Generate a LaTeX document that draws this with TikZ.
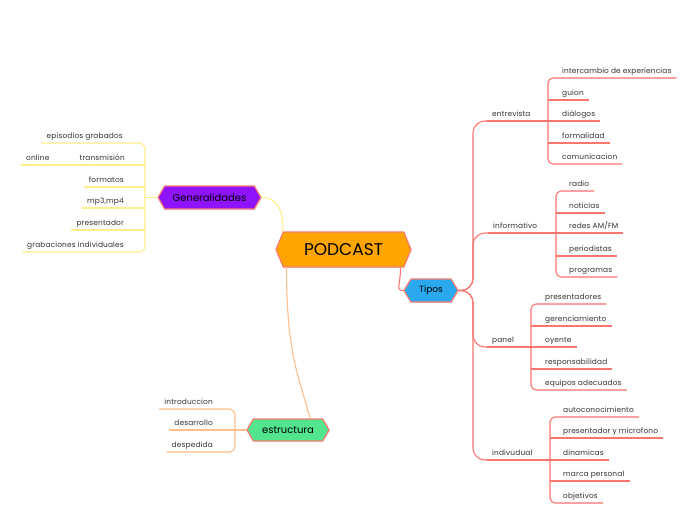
\documentclass[tikz,border=0pt]{standalone}
\usepackage{fontspec}
\setmainfont{Poppins}
\usetikzlibrary{shapes.symbols,shadows}
\definecolor{orangec}{HTML}{FFA500}
\definecolor{bluec}{HTML}{2AA9EF}
\definecolor{purplec}{HTML}{9013FE}
\definecolor{greenc}{HTML}{52E58E}
\definecolor{bordc}{HTML}{FA7A70}
\definecolor{redl}{HTML}{FA7470}
\definecolor{yell}{HTML}{FFEE88}
\definecolor{orl}{HTML}{FFBF8C}
\definecolor{labc}{HTML}{333333}
\tikzset{
  hexa/.style={shape=signal, signal to=west and east, draw=bordc, line width=1.2pt, text=black, inner sep=0pt,
    drop shadow={opacity=0.15, shadow xshift=0.8pt, shadow yshift=-0.8pt}},
  leaf/.style={font=\fontsize{7.4}{8}\selectfont\addfontfeatures{LetterSpace=2}, text=labc, inner xsep=5pt, inner ysep=0pt, text height=6pt, text depth=4.8pt},
  rl/.style={draw=redl, line width=1.1pt},
  yl/.style={draw=yell, line width=1.1pt},
  ol/.style={draw=orl, line width=1.1pt},
}
\begin{document}
\begin{tikzpicture}[x=1pt,y=-1pt]
\useasboundingbox[fill=white] (0,0) rectangle (697,520);

\node[hexa, fill=orangec, minimum width=135pt, minimum height=35pt, signal pointer angle=135, font=\fontsize{17}{20}\selectfont] (pod) at (343.5,249.5) {PODCAST};
\node[hexa, fill=bluec, minimum width=54pt, minimum height=23pt, signal pointer angle=117, font=\fontsize{9}{11}\selectfont] (tipos) at (431,290.5) {Tipos};
\node[hexa, fill=purplec, minimum width=103pt, minimum height=23pt, signal pointer angle=120, font=\fontsize{10}{12}\selectfont] (gen) at (209.5,197.5) {Generalidades};
\node[hexa, fill=greenc, minimum width=82pt, minimum height=22pt, signal pointer angle=120, font=\fontsize{10}{12}\selectfont] (est) at (288,430) {estructura};

\draw[yl] (gen.east) .. controls +(18,0) and +(0,-18) .. ([xshift=-60.5pt]pod.north);
\draw[ol] ([xshift=-57pt]pod.south) .. controls +(0,90) and +(-10,-40) .. ([xshift=22pt]est.north);
\draw[rl] ([xshift=57pt]pod.south) .. controls +(0,18) and +(-8,0) .. (tipos.west);

% ---------- right side: Tipos ----------
% entrevista
\node[leaf, anchor=south west] (entrevista) at (487,121) {entrevista};
\draw[rl, rounded corners=12pt] (tipos.east) -- (473,290.5) -- (473,121) -- (entrevista.south west);
\draw[rl] (entrevista.south west) -- (548,121);
\node[leaf, anchor=south west] (e1) at (557,78) {intercambio de experiencias};
\node[leaf, anchor=south west] (e2) at (557,100) {guion};
\node[leaf, anchor=south west] (e3) at (557,121) {diálogos};
\node[leaf, anchor=south west] (e4) at (557,143) {formalidad};
\node[leaf, anchor=south west] (e5) at (557,164) {comunicacion};
\draw[rl, rounded corners=5pt] (e1.south east) -- (548,78) -- (548,164) -- (e5.south east);
\draw[rl] (548,100) -- (e2.south east);
\draw[rl] (548,121) -- (e3.south east);
\draw[rl] (548,143) -- (e4.south east);

% informativo
\node[leaf, anchor=south west] (informativo) at (488,233) {informativo};
\draw[rl, rounded corners=12pt] (tipos.east) -- (473,290.5) -- (473,233) -- (informativo.south west);
\draw[rl] (informativo.south west) -- (556,233);
\node[leaf, anchor=south west] (i1) at (564,191) {radio};
\node[leaf, anchor=south west] (i2) at (564,213) {noticias};
\node[leaf, anchor=south west] (i3) at (564,233) {redes AM/FM};
\node[leaf, anchor=south west] (i4) at (564,256) {periodistas};
\node[leaf, anchor=south west] (i5) at (564,277) {programas};
\draw[rl, rounded corners=5pt] (i1.south east) -- (556,191) -- (556,277) -- (i5.south east);
\draw[rl] (556,213) -- (i2.south east);
\draw[rl] (556,233) -- (i3.south east);
\draw[rl] (556,256) -- (i4.south east);

% panel
\node[leaf, anchor=south west] (panel) at (487,347) {panel};
\draw[rl, rounded corners=12pt] (tipos.east) -- (473,290.5) -- (473,347) -- (panel.south west);
\draw[rl] (panel.south west) -- (531,347);
\node[leaf, anchor=south west] (p1) at (540,304) {presentadores};
\node[leaf, anchor=south west] (p2) at (540,326) {gerenciamiento};
\node[leaf, anchor=south west] (p3) at (540,347) {oyente};
\node[leaf, anchor=south west] (p4) at (540,369) {responsabilidad};
\node[leaf, anchor=south west] (p5) at (540,390) {equipos adecuados};
\draw[rl, rounded corners=5pt] (p1.south east) -- (531,304) -- (531,390) -- (p5.south east);
\draw[rl] (531,326) -- (p2.south east);
\draw[rl] (531,347) -- (p3.south east);
\draw[rl] (531,369) -- (p4.south east);

% indivudual
\node[leaf, anchor=south west] (indiv) at (487,460) {indivudual};
\draw[rl, rounded corners=12pt] (tipos.east) -- (473,290.5) -- (473,460) -- (indiv.south west);
\draw[rl] (indiv.south west) -- (550,460);
\node[leaf, anchor=south west] (d1) at (558,417) {autoconocimiento};
\node[leaf, anchor=south west] (d2) at (558,438) {presentador y microfono};
\node[leaf, anchor=south west] (d3) at (558,460) {dinamicas};
\node[leaf, anchor=south west] (d4) at (558,481) {marca personal};
\node[leaf, anchor=south west] (d5) at (558,503) {objetivos};
\draw[rl, rounded corners=5pt] (d1.south east) -- (550,417) -- (550,503) -- (d5.south east);
\draw[rl] (550,438) -- (d2.south east);
\draw[rl] (550,460) -- (d3.south east);
\draw[rl] (550,481) -- (d4.south east);

% ---------- left side: Generalidades ----------
\node[leaf, anchor=south east] (g1) at (128,143) {episodios grabados};
\node[leaf, anchor=south east] (g2) at (130,165) {transmisión};
\node[leaf, anchor=south west] (g2b) at (21,165) {online};
\node[leaf, anchor=south east] (g3) at (129,187) {formatos};
\node[leaf, anchor=south east] (g4) at (129,208) {mp3,mp4};
\node[leaf, anchor=south east] (g5) at (129,230) {presentador};
\node[leaf, anchor=south east] (g6) at (129,252) {grabaciones individuales};
\draw[yl] (gen.west) -- (145,197.5);
\draw[yl, rounded corners=6pt] (g1.south west) -- (145,143) -- (145,252) -- (g6.south west);
\draw[yl] (g2b.south west) -- (g2.south west) -- (145,165);
\draw[yl] (g3.south west) -- (145,187);
\draw[yl] (g4.south west) -- (145,208);
\draw[yl] (g5.south west) -- (145,230);

% ---------- estructura ----------
\node[leaf, anchor=south east] (s1) at (218,409) {introduccion};
\node[leaf, anchor=south east] (s2) at (218,430) {desarrollo};
\node[leaf, anchor=south east] (s3) at (218,452) {despedida};
\draw[ol, rounded corners=6pt] (s1.south west) -- (235,409) -- (235,452) -- (s3.south west);
\draw[ol] (s2.south west) -- (est.west);
\end{tikzpicture}
\end{document}
